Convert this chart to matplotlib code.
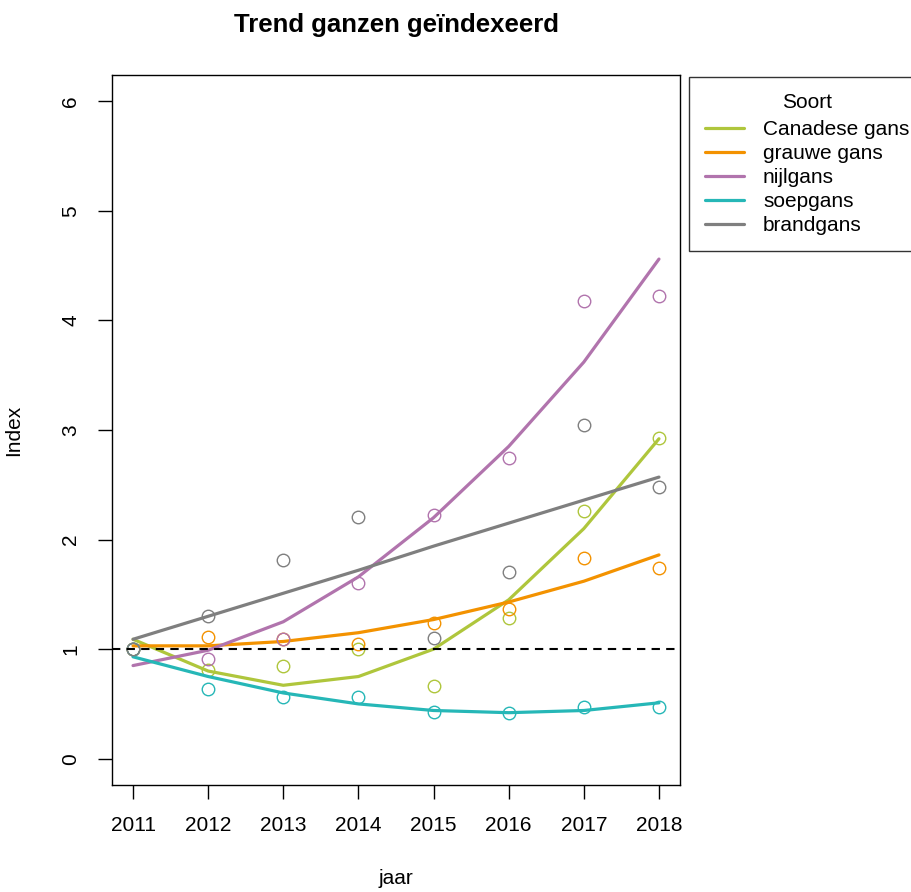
import matplotlib.pyplot as plt
import numpy as np

plt.rcParams["font.family"] = ["Liberation Sans", "DejaVu Sans"]

years = [2011, 2012, 2013, 2014, 2015, 2016, 2017, 2018]
species = ["Canadese gans", "grauwe gans", "nijlgans", "soepgans", "brandgans"]
colors = ["#AFC63C", "#F39200", "#B174AD", "#26B7B7", "#7F7F7F"]

# observed index per year
obs_canadese = [1.00, 0.81, 0.85, 1.00, 0.66, 1.28, 2.26, 2.93]
obs_grauwe   = [1.00, 1.11, 1.09, 1.05, 1.24, 1.37, 1.83, 1.74]
obs_nijl     = [1.00, 0.91, 1.09, 1.60, 2.22, 2.74, 4.18, 4.22]
obs_soep     = [1.00, 0.64, 0.56, 0.56, 0.43, 0.42, 0.47, 0.47]
obs_brand    = [1.00, 1.30, 1.81, 2.21, 1.10, 1.70, 3.05, 2.48]

# fitted trend per year
fit_canadese = [1.09, 0.80, 0.67, 0.75, 1.00, 1.45, 2.10, 2.92]
fit_grauwe   = [1.03, 1.03, 1.07, 1.15, 1.27, 1.43, 1.62, 1.86]
fit_nijl     = [0.85, 0.99, 1.25, 1.66, 2.20, 2.85, 3.62, 4.56]
fit_soep     = [0.93, 0.75, 0.60, 0.50, 0.44, 0.42, 0.44, 0.51]
fit_brand    = [1.09, 1.30, 1.51, 1.72, 1.94, 2.15, 2.36, 2.57]

observed = [obs_canadese, obs_grauwe, obs_nijl, obs_soep, obs_brand]
fitted = [fit_canadese, fit_grauwe, fit_nijl, fit_soep, fit_brand]

fig = plt.figure(figsize=(9.12, 8.92), dpi=100)
ax = fig.add_axes([112 / 912, 1 - 785 / 892, 568 / 912, 710 / 892])

for name, col, obs, fit in zip(species, colors, observed, fitted):
    ax.plot(years, fit, color=col, lw=2.3, label=name, solid_capstyle="round")
    ax.plot(years, obs, "o", mfc="none", mec=col, ms=9, mew=1.0)

ax.axhline(1, color="black", lw=1.5, ls=(0, (4, 3)))

ax.set_xlim(2010.72, 2018.28)
ax.set_ylim(-0.24, 6.24)
ax.set_xticks(years)
ax.set_yticks(range(0, 7))
ax.tick_params(axis="both", direction="out", length=10, width=1, labelsize=15)
ax.tick_params(axis="x", pad=12)
ax.tick_params(axis="y", pad=13)
for lab in ax.get_yticklabels():
    lab.set_rotation(90)
    lab.set_va("center")
for s in ax.spines.values():
    s.set_linewidth(1)

ax.set_xlabel("jaar", fontsize=15, labelpad=25)
ax.set_ylabel("Index", fontsize=15, labelpad=27)
ax.set_title("Trend ganzen geïndexeerd", fontsize=18.5, fontweight="bold", pad=31)

leg = ax.legend(title="Soort", loc="upper left", bbox_to_anchor=(689 / 912, 1 - 77 / 892),
                bbox_transform=fig.transFigure, fontsize=15, title_fontsize=15,
                frameon=True, fancybox=False, edgecolor="black", handlelength=1.9,
                handletextpad=0.9, borderpad=0.75, labelspacing=0.24, borderaxespad=0)
leg.get_frame().set_linewidth(1)
# extra room between legend title and entries
leg._legend_box.sep = 6

fig.savefig("out.png", dpi=100)
